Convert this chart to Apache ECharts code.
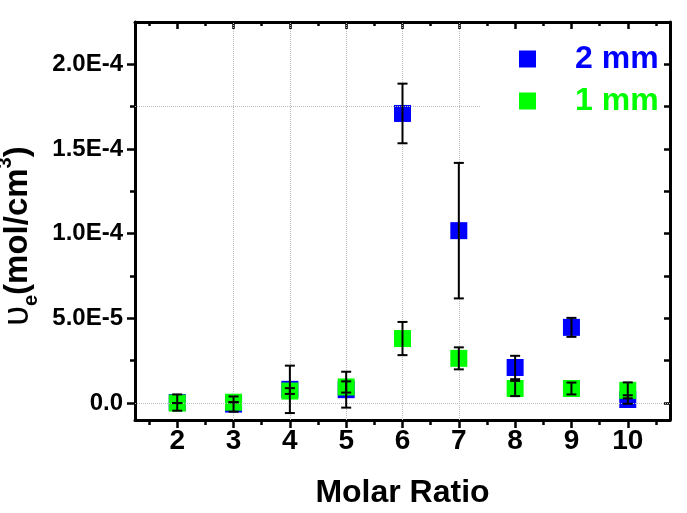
<!DOCTYPE html>
<html>
<head>
<meta charset="utf-8">
<script src="https://cdn.jsdelivr.net/npm/echarts@6.0.0/dist/echarts.min.js"></script>
<style>
html,body{margin:0;padding:0;background:#fff;}
#chart{width:687px;height:513px;}
</style>
</head>
<body>
<div id="chart"></div>
<script>
// ---- data ----
var molarRatio = [2, 3, 4, 5, 6, 7, 8, 9, 10];
var blue2mm   = [0.3e-6, -0.6e-6, 8.1e-6, 7.9e-6, 1.71e-4, 1.018e-4, 2.10e-5, 4.47e-5, 2.1e-6];
var blueErr   = [4.8e-6, 4.5e-6, 1.4e-5, 1.06e-5, 1.76e-5, 4.0e-5, 6.9e-6, 5.6e-6, 2.5e-6];
var green1mm  = [0, 0.5e-6, 7.1e-6, 9.5e-6, 3.81e-5, 2.64e-5, 8.6e-6, 8.6e-6, 7.5e-6];
var greenErr  = [0, 0, 1.7e-6, 3.3e-6, 9.8e-6, 6.5e-6, 4.5e-6, 3.5e-6, 4.7e-6];
var yTickValues = [0, 5e-5, 1e-4, 1.5e-4, 2e-4];
var yTickLabels = ['0.0', '5.0E-5', '1.0E-4', '1.5E-4', '2.0E-4'];
var yMinorValues = [2.5e-5, 7.5e-5, 1.25e-4, 1.75e-4];
var xMinorValues = [1.5, 2.5, 3.5, 4.5, 5.5, 6.5, 7.5, 8.5, 9.5, 10.5];
var xGridValues = [3, 4, 5, 6, 7];
var yGridValues = [2.5e-5, 7.5e-5];

var FONT = 'Liberation Sans, Arial, sans-serif';
var chart = echarts.init(document.getElementById('chart'), null, {renderer: 'canvas'});

function pts(xs, ys) { return xs.map(function (x, i) { return [x, ys[i]]; }); }
function errData(xs, ys, es) { return xs.map(function (x, i) { return [x, ys[i] - es[i], ys[i] + es[i]]; }); }

function errRender(params, api) {
  var x = api.value(0);
  var lo = api.coord([x, api.value(1)]);
  var hi = api.coord([x, api.value(2)]);
  var hw = 5;
  var st = {stroke: '#000', lineWidth: 2};
  return {
    type: 'group',
    children: [
      {type: 'line', shape: {x1: lo[0], y1: lo[1], x2: hi[0], y2: hi[1]}, style: st},
      {type: 'line', shape: {x1: lo[0] - hw, y1: lo[1], x2: lo[0] + hw, y2: lo[1]}, style: st},
      {type: 'line', shape: {x1: hi[0] - hw, y1: hi[1], x2: hi[0] + hw, y2: hi[1]}, style: st}
    ]
  };
}

var gridMarks = [];
xGridValues.forEach(function (v) { gridMarks.push({xAxis: v}); });
yGridValues.forEach(function (v) { gridMarks.push({yAxis: v}); });
gridMarks.push([{coord: [1.25, 1.75e-4]}, {coord: [7.38, 1.75e-4]}]);

var noLine = {show: false};
var yMin = -1e-5, yMax = 2.25e-4, xMin = 1.25, xMax = 10.75;

var option = {
  backgroundColor: '#ffffff',
  animation: false,
  grid: {left: 135, top: 22, width: 535, height: 398, containLabel: false, outerBoundsMode: 'none'},
  legend: {
    orient: 'vertical', left: 514, top: 38, itemWidth: 17, itemHeight: 17, itemGap: 10,
    icon: 'rect',
    textStyle: {fontSize: 32, fontWeight: 'bold', fontFamily: FONT, padding: [0, 0, 0, 34], lineHeight: 32},
    data: [
      {name: '2 mm', textStyle: {color: '#0000ff'}},
      {name: '1 mm', textStyle: {color: '#00ff00'}}
    ]
  },
  xAxis: [
    {type: 'value', min: xMin, max: xMax, position: 'bottom',
     axisLine: {show: true, onZero: false, lineStyle: {color: '#000', width: 3}},
     axisTick: {show: true, customValues: molarRatio, length: 8, inside: false, lineStyle: {color: '#000', width: 2.5}},
     axisLabel: {show: true, customValues: molarRatio, color: '#000', fontSize: 28, fontWeight: 'bold', fontFamily: FONT, margin: 7},
     splitLine: noLine,
     name: 'Molar Ratio', nameLocation: 'middle', nameGap: 57,
     nameTextStyle: {color: '#000', fontSize: 32, fontWeight: 'bold', fontFamily: FONT}},
    {type: 'value', min: xMin, max: xMax, position: 'bottom',
     axisLine: {show: false, onZero: false},
     axisTick: {show: true, customValues: xMinorValues, length: 5, inside: false, lineStyle: {color: '#000', width: 2.5}},
     axisLabel: {show: false}, splitLine: noLine},
    {type: 'value', min: xMin, max: xMax, position: 'top',
     axisLine: {show: true, onZero: false, lineStyle: {color: '#000', width: 3}},
     axisTick: {show: true, customValues: molarRatio, length: 7, inside: true, lineStyle: {color: '#000', width: 2.5}},
     axisLabel: {show: false}, splitLine: noLine},
    {type: 'value', min: xMin, max: xMax, position: 'top',
     axisLine: {show: false, onZero: false},
     axisTick: {show: true, customValues: xMinorValues, length: 4, inside: true, lineStyle: {color: '#000', width: 2.5}},
     axisLabel: {show: false}, splitLine: noLine}
  ],
  yAxis: [
    {type: 'value', min: yMin, max: yMax, position: 'left',
     axisLine: {show: true, onZero: false, lineStyle: {color: '#000', width: 3}},
     axisTick: {show: true, customValues: yTickValues, length: 8, inside: false, lineStyle: {color: '#000', width: 2.5}},
     axisLabel: {show: true, customValues: yTickValues, color: '#000', fontSize: 24, fontWeight: 'bold', fontFamily: FONT, margin: 12,
       formatter: function (v) {
         for (var i = 0; i < yTickValues.length; i++) { if (Math.abs(yTickValues[i] - v) < 1e-9) return yTickLabels[i]; }
         return '';
       }},
     splitLine: noLine,
     name: '{u|υ}{sub|e}{a|(mol/cm}{sup|3}{a|)}', nameLocation: 'middle', nameRotate: 90, nameGap: 85,
     nameTextStyle: {
       color: '#000', fontFamily: FONT, padding: [0, 30, 0, 0],
       rich: {
         u: {fontSize: 36, fontFamily: FONT, color: '#000', lineHeight: 46, verticalAlign: 'middle'},
         a: {fontSize: 33, fontWeight: 'bold', fontFamily: FONT, color: '#000', lineHeight: 46, verticalAlign: 'middle'},
         sub: {fontSize: 20, fontWeight: 'bold', fontFamily: FONT, color: '#000', verticalAlign: 'bottom', lineHeight: 20},
         sup: {fontSize: 20, fontWeight: 'bold', fontFamily: FONT, color: '#000', verticalAlign: 'top', lineHeight: 20}
       }
     }},
    {type: 'value', min: yMin, max: yMax, position: 'left',
     axisLine: {show: false, onZero: false},
     axisTick: {show: true, customValues: yMinorValues, length: 5, inside: false, lineStyle: {color: '#000', width: 2.5}},
     axisLabel: {show: false}, splitLine: noLine},
    {type: 'value', min: yMin, max: yMax, position: 'right',
     axisLine: {show: true, onZero: false, lineStyle: {color: '#000', width: 3}},
     axisTick: {show: true, customValues: yTickValues.concat(yMinorValues), length: 6, inside: true, lineStyle: {color: '#000', width: 2.5}},
     axisLabel: {show: false}, splitLine: noLine}
  ],
  series: [
    {name: 'grid', type: 'line', data: [], xAxisIndex: 0, yAxisIndex: 0, z: 1, silent: true,
     markLine: {silent: true, symbol: ['none', 'none'], label: {show: false},
       lineStyle: {color: '#bdbdbd', type: 'dotted', width: 1}, data: gridMarks, animation: false}},
    {name: '2 mm', type: 'scatter', symbol: 'rect', symbolSize: 17, xAxisIndex: 0, yAxisIndex: 0, z: 3,
     itemStyle: {color: '#0000ff', opacity: 1}, data: pts(molarRatio, blue2mm)},
    {name: '1 mm', type: 'scatter', symbol: 'rect', symbolSize: 17, xAxisIndex: 0, yAxisIndex: 0, z: 4,
     itemStyle: {color: '#00ff00', opacity: 1}, data: pts(molarRatio, green1mm)},
    {name: 'err2', type: 'custom', xAxisIndex: 0, yAxisIndex: 0, z: 5, silent: true,
     renderItem: errRender, encode: {x: 0, y: [1, 2]}, data: errData(molarRatio, blue2mm, blueErr)},
    {name: 'err1', type: 'custom', xAxisIndex: 0, yAxisIndex: 0, z: 6, silent: true,
     renderItem: errRender, encode: {x: 0, y: [1, 2]}, data: errData(molarRatio, green1mm, greenErr)}
  ]
};
chart.setOption(option);
</script>
</body>
</html>
